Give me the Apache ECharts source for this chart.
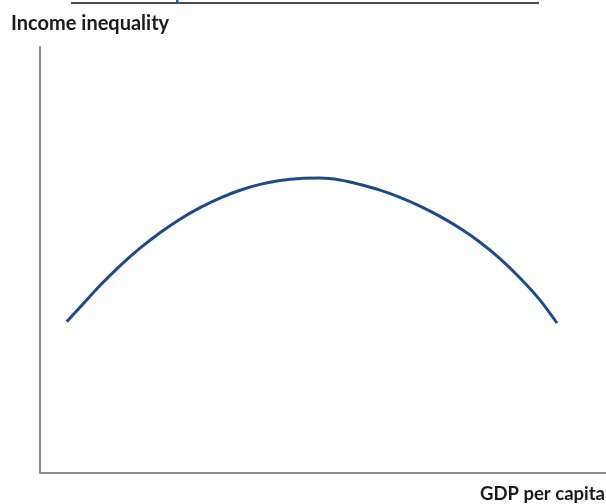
<!DOCTYPE html>
<html>
<head>
<meta charset="utf-8">
<script src="https://cdn.jsdelivr.net/npm/echarts@6/dist/echarts.min.js"></script>
<style>
html,body{margin:0;padding:0;background:#fff;}
#chart{width:606px;height:504px;}
</style>
</head>
<body>
<div id="chart"></div>
<script>
// GDP per capita (index units) and income inequality (index units)
const gdpPerCapita = [4.72, 7.07, 10.60, 14.13, 17.67, 21.20, 24.73, 28.27, 31.80, 35.34, 38.87, 42.40, 45.94, 49.47, 53.00, 56.54, 60.07, 63.60, 67.14, 70.67, 74.20, 77.74, 81.27, 84.81, 88.34, 91.34];
const incomeInequality = [35.52, 38.90, 44.01, 48.64, 52.77, 56.41, 59.59, 62.30, 64.55, 66.38, 67.75, 68.67, 69.16, 69.23, 68.78, 67.72, 66.41, 64.72, 62.65, 60.23, 57.44, 54.18, 50.33, 45.77, 40.59, 35.21];
const yTitle = 'Income inequality';
const xTitle = 'GDP per capita';

const points = gdpPerCapita.map((x, i) => [x, incomeInequality[i]]);
const chart = echarts.init(document.getElementById('chart'));
const font = 'Lato, "Open Sans", sans-serif';
chart.setOption({
  animation: false,
  backgroundColor: '#ffffff',
  title: [
    { text: yTitle, left: 11, top: 14, padding: 0, textStyle: { fontFamily: font, fontSize: 20, fontWeight: 'bold', color: '#1a1a1a' } },
    { text: xTitle, right: 1, top: 485, padding: 0, textStyle: { fontFamily: font, fontSize: 18.5, fontWeight: 'bold', color: '#1a1a1a' } }
  ],
  grid: { left: 40, right: 0, top: 47, bottom: 31 },
  xAxis: {
    type: 'value', min: 0, max: 100,
    axisLine: { show: true, lineStyle: { color: '#8c8c8c', width: 2 } },
    axisTick: { show: false }, axisLabel: { show: false }, splitLine: { show: false }
  },
  yAxis: {
    type: 'value', min: 0, max: 100,
    axisLine: { show: true, lineStyle: { color: '#8c8c8c', width: 2 } },
    axisTick: { show: false }, axisLabel: { show: false }, splitLine: { show: false }
  },
  graphic: [
    { type: 'line', shape: { x1: 71, y1: 3, x2: 539, y2: 3 }, style: { stroke: '#111', lineWidth: 1.5 } },
    { type: 'rect', shape: { x: 176, y: 0, width: 2.5, height: 3 }, style: { fill: '#2a5aa8' } }
  ],
  series: [{
    type: 'line',
    data: points,
    smooth: 0.3,
    showSymbol: false,
    lineStyle: { color: '#1f4a8a', width: 3 }
  }]
});
</script>
</body>
</html>
